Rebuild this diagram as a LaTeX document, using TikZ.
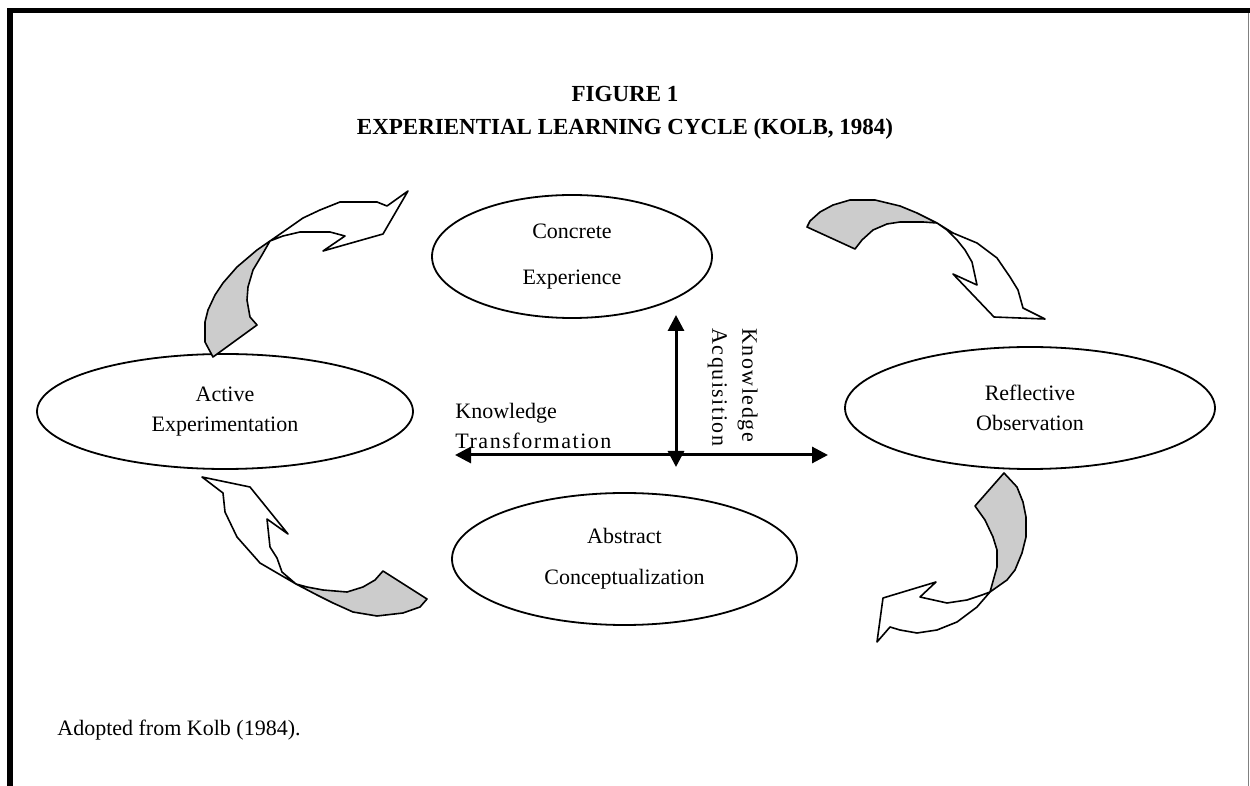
\documentclass[tikz,border=0pt]{standalone}
\usepackage{fontspec}
\setmainfont{Liberation Serif}
\usetikzlibrary{shapes.geometric, arrows.meta, positioning}
\newcommand{\wide}[1]{{\addfontfeature{LetterSpace=7}#1}}

\begin{document}
\begin{tikzpicture}[
		x=0.5pt, y=-0.5pt,
		every node/.style={font=\fontsize{11}{15}\selectfont},
		stage/.style={draw, ellipse, line width=0.9pt, inner sep=0pt, align=center},
		axis/.style={line width=1.5pt, {Triangle[length=8pt,width=8pt]}-{Triangle[length=8pt,width=8pt]}},
		underside/.style={draw, fill=gray!40, line width=0.8pt, line join=round},
		topside/.style={draw, fill=white, line width=0.8pt, line join=round}]

	\useasboundingbox (0,0) rectangle (1250,786);
	\fill (7,8) rectangle (1250,13.5);
	\fill (7,8) rectangle (12.5,786);
	\draw[gray, line width=0.6pt] (1248.5,13) -- (1248.5,786);

	\node[font=\fontsize{11.5}{16.5}\selectfont\bfseries, align=center] (title) at (625,113) {FIGURE 1\\EXPERIENTIAL LEARNING CYCLE (KOLB, 1984)};

	\node[stage, minimum width=140pt, minimum height=61.5pt] (concrete) at (572,256.5) {Concrete\\[8pt]Experience};
	\node[stage, minimum width=188pt, minimum height=57.5pt] (active) at (225,411.5) {Active\\Experimentation};
	\node[stage, minimum width=185pt, minimum height=61pt] (reflective) at (1030,408) {Reflective\\Observation};
	\node[stage, minimum width=172.5pt, minimum height=66pt] (abstract) at (624.5,559) {Abstract\\[5.5pt]Conceptualization};

	\coordinate (acqtop) at (676,315);
	\coordinate (acqbot) at (676,467);
	\coordinate (trleft) at (455,455);
	\coordinate (trright) at (828,455);
	\draw[axis] (acqtop) -- (acqbot);
	\draw[axis] (trleft) -- (trright);

	\node[anchor=south west, align=left, inner sep=0pt] (transf) at (455,449) {Knowledge\\\wide{Transformation}};
	\node[rotate=-90, anchor=north west, align=left, inner sep=0pt] (acq) at (758,328) {\wide{Knowledge}\\\wide{Acquisition}};

	% curved arrows round the cycle
	\draw[underside] (213,357) -- (205,342) -- (205,322) -- (208,310) -- (215,295) -- (223,283) -- (237,267) -- (257,250) -- (270,241) -- (262,255) -- (253,270) -- (248,287) -- (247,300) -- (250,317) -- (257,325) -- cycle;
	\draw[topside] (270,241) -- (283,232) -- (303,218) -- (320,210) -- (340,202) -- (377,202) -- (387,206) -- (408,191) -- (383,234) -- (323,251) -- (345,236) -- (330,232) -- (300,232) -- (283,236) -- cycle;

	\draw[underside] (807,227) -- (810,221) -- (820,212) -- (833,205) -- (850,200) -- (875,200) -- (900,206) -- (917,213) -- (937,223) -- (923,222) -- (900,222) -- (887,224) -- (873,230) -- (862,240) -- (855,249) -- cycle;
	\draw[topside] (937,223) -- (953,233) -- (977,243) -- (997,258) -- (1010,277) -- (1018,290) -- (1023,308) -- (1045,319) -- (994,317) -- (953,274) -- (977,285) -- (972,262) -- (965,250) -- (957,240) -- (947,230) -- cycle;

	\draw[underside] (1004,473) -- (1017,487) -- (1023,502) -- (1026,517) -- (1026,537) -- (1022,553) -- (1015,570) -- (1007,580) -- (990,592) -- (997,567) -- (997,550) -- (993,537) -- (985,520) -- (975,506) -- cycle;
	\draw[topside] (990,592) -- (977,607) -- (957,622) -- (937,630) -- (917,633) -- (900,630) -- (890,627) -- (877,642) -- (883,598) -- (936,582) -- (920,597) -- (947,603) -- (967,600) -- (982,595) -- cycle;

	\draw[underside] (383,571) -- (375,580) -- (363,587) -- (347,592) -- (323,590) -- (307,587) -- (296,584) -- (317,595) -- (333,603) -- (353,612) -- (377,616) -- (403,613) -- (420,607) -- (427,599) -- cycle;
	\draw[topside] (296,584) -- (260,563) -- (237,537) -- (225,512) -- (223,493) -- (202,477) -- (250,487) -- (288,534) -- (267,519) -- (270,547) -- (277,558) -- (282,572) -- cycle;

	\node[anchor=west, inner sep=0pt] (source) at (57,730) {Adopted from Kolb (1984).};
\end{tikzpicture}
\end{document}
